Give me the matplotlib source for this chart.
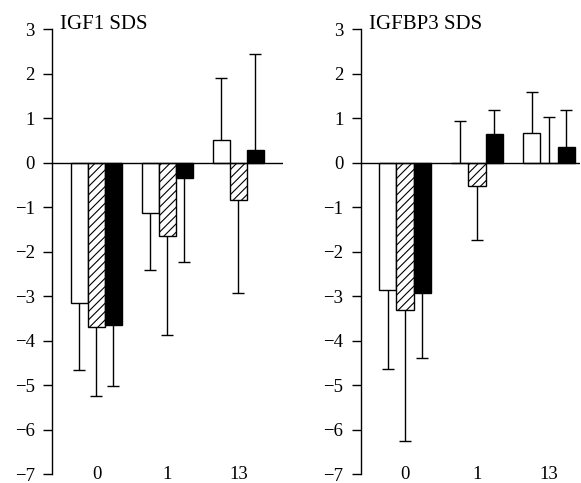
import numpy as np
import matplotlib
matplotlib.use('Agg')
import matplotlib.pyplot as plt

plt.rcParams['font.family'] = 'Liberation Serif'
plt.rcParams['font.size'] = 13.5
plt.rcParams['hatch.linewidth'] = 0.8

groups = ['0', '1', '13']

# IGF1 SDS: mean and one-sided SD per group
igf1_white = [-3.16, -1.14, 0.50]
igf1_white_sd = [1.51, 1.28, 1.39]
igf1_hatch = [-3.70, -1.65, -0.85]
igf1_hatch_sd = [1.54, 2.22, 2.08]
igf1_black = [-3.64, -0.35, 0.29]
igf1_black_sd = [1.39, 1.88, 2.15]

# IGFBP3 SDS
bp3_white = [-2.86, 0.0, 0.67]
bp3_white_sd = [1.77, 0.93, 0.91]
bp3_hatch = [-3.32, -0.53, 0.0]
bp3_hatch_sd = [2.94, 1.21, 1.03]
bp3_black = [-2.93, 0.65, 0.34]
bp3_black_sd = [1.46, 0.54, 0.85]

bw = 0.24


def panel(ax, series, title, xlim):
    x = np.arange(len(groups))
    styles = [dict(facecolor='white', hatch=None),
              dict(facecolor='white', hatch='////'),
              dict(facecolor='black', hatch=None)]
    for k, (vals, sds) in enumerate(series):
        vals = np.array(vals)
        sds = np.array(sds)
        xs = x + (k - 1) * bw
        ax.bar(xs, vals, width=bw, edgecolor='black', linewidth=1.0,
               zorder=2, **styles[k])
        # SD drawn away from zero only, capped at the far end
        ends = np.where(vals < 0, vals - sds, vals + sds)
        ax.vlines(xs, vals, ends, color='black', lw=1.0, zorder=1)
        ax.plot(xs, ends, ls='none', marker='_', ms=9, mew=1.0,
                color='black', zorder=1)
    ax.axhline(0, color='black', lw=1.0, zorder=3)
    ax.set_xlim(*xlim)
    ax.set_ylim(-7, 3)
    ax.set_yticks(range(-7, 4))
    ax.set_xticks(x)
    ax.set_xticklabels(groups)
    ax.tick_params(axis='x', length=0, pad=-6)
    ax.tick_params(axis='y', length=6.5, width=1.0, pad=6)
    for s in ['top', 'right', 'bottom']:
        ax.spines[s].set_visible(False)
    ax.spines['left'].set_linewidth(1.0)
    ax.text(xlim[0] + 0.11, 3, title, va='baseline', ha='left', fontsize=15)


fig = plt.figure(figsize=(5.81, 4.83), dpi=100)
ax1 = fig.add_axes([0.0895, 0.0186, 0.3976, 0.9213])
ax2 = fig.add_axes([0.6208, 0.0186, 0.3775, 0.9213])

panel(ax1, [(igf1_white, igf1_white_sd), (igf1_hatch, igf1_hatch_sd),
            (igf1_black, igf1_black_sd)], 'IGF1 SDS', (-0.627, 2.63))
panel(ax2, [(bp3_white, bp3_white_sd), (bp3_hatch, bp3_hatch_sd),
            (bp3_black, bp3_black_sd)], 'IGFBP3 SDS', (-0.615, 2.43))

fig.savefig('out.png', dpi=100)
